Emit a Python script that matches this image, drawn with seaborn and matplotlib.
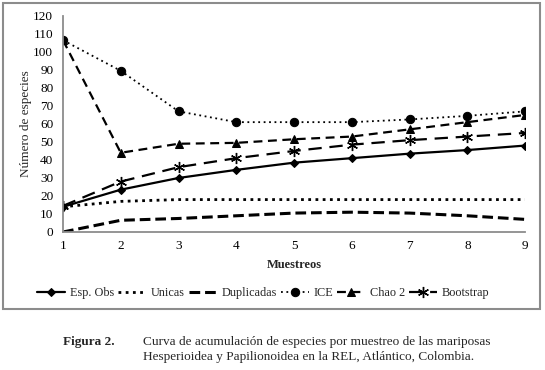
import matplotlib
matplotlib.use('Agg')
import matplotlib.pyplot as plt
from matplotlib.patches import Rectangle
import numpy as np
import pandas as pd
import seaborn as sns

# Data
muestreos = [1, 2, 3, 4, 5, 6, 7, 8, 9]
esp_obs = [14, 23.5, 30, 34.5, 38.5, 41, 43.5, 45.5, 48]
unicas = [14, 17, 18, 18, 18, 18, 18, 18, 18]
duplicadas = [0, 6.5, 7.5, 9, 10.5, 11, 10.5, 9, 7]
ice = [106.5, 89.5, 67, 61, 61, 61, 62.5, 64.5, 67]
chao2 = [106.5, 44, 49, 49.5, 51.5, 53, 57, 61, 65]
bootstrap = [14.5, 28, 36, 41, 45, 48.5, 51, 53, 55]

yticks = list(range(0, 121, 10))

sns.set_style('white')
plt.rcParams['font.family'] = ['Liberation Serif', 'DejaVu Serif']

fig = plt.figure(figsize=(5.45, 3.70), dpi=100)
ax = fig.add_axes([0.1156, 0.373, 0.848, 0.584])

series = [
    ('Esp. Obs', esp_obs, dict(linestyle='-', lw=1.6, marker='D', ms=4)),
    ('Unicas', unicas, dict(linestyle=(0, (1, 1.6)), lw=2.0, marker=None)),
    ('Duplicadas', duplicadas, dict(linestyle=(0, (3.5, 1.6)), lw=2.2, marker=None)),
    ('ICE', ice, dict(linestyle=(0, (1, 2)), lw=1.3, marker='o', ms=6)),
    ('Chao 2', chao2, dict(linestyle=(0, (4, 2.5)), lw=1.6, marker='^', ms=5.5)),
    ('Bootstrap', bootstrap, dict(linestyle=(0, (6, 3.5)), lw=1.6, marker=(6, 2, 0), ms=8, mew=1.0)),
]

for name, vals, st in series:
    df = pd.DataFrame({'x': muestreos, 'y': vals})
    sns.lineplot(data=df, x='x', y='y', ax=ax, color='black', label=name,
                 markeredgecolor='black', markerfacecolor='black', **st)

ax.set_xlim(1, 9)
ax.set_ylim(0, 120)
ax.set_xticks(muestreos)
ax.set_yticks(yticks)
ax.tick_params(axis='both', labelsize=9.5, colors='black', length=3, width=0.8)
ax.tick_params(axis='x', direction='inout', length=5, pad=3)
ax.tick_params(axis='y', direction='out', pad=4)
for s in ['top', 'right']:
    ax.spines[s].set_visible(False)
for s in ['left', 'bottom']:
    ax.spines[s].set_color('#8c8c8c')
    ax.spines[s].set_linewidth(1.3)
ax.tick_params(color='#555555')
ax.set_xlabel('Muestreos', fontsize=9, fontweight='bold', labelpad=5)
ax.set_ylabel('Número de especies', fontsize=9.5)
ax.yaxis.set_label_coords(-0.066, 0.5)

handles, labels = ax.get_legend_handles_labels()
ax.get_legend().remove()
fig.legend(handles, labels, loc='center', bbox_to_anchor=(0.483, 0.208), ncol=6,
           frameon=False, fontsize=8.8, handlelength=2.3, columnspacing=0.35,
           handletextpad=0.35, numpoints=1)

# gray frame round the chart area
fig.patches.append(Rectangle((2.5 / 545, 1 - 309 / 370), 537.5 / 545, 306.5 / 370,
                             transform=fig.transFigure, fill=False,
                             edgecolor='#8c8c8c', lw=1.5))

fig.text(63 / 545, 1 - 342 / 370, 'Figura 2.', fontsize=9.5, fontweight='bold', va='center')
fig.text(143 / 545, 1 - 342 / 370,
         'Curva de acumulación de especies por muestreo de las mariposas',
         fontsize=9.5, va='center')
fig.text(143 / 545, 1 - 357 / 370,
         'Hesperioidea y Papilionoidea en la REL, Atlántico, Colombia.',
         fontsize=9.5, va='center')

fig.savefig('out.png', dpi=100, facecolor='white')
